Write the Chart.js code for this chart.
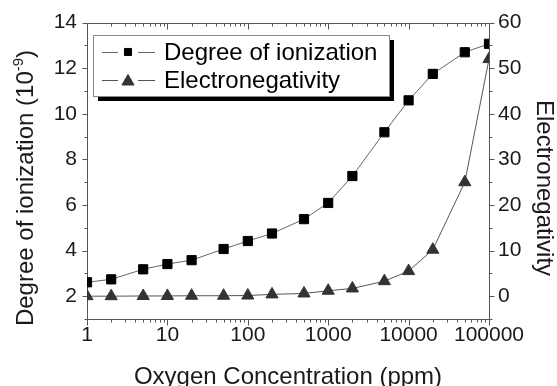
<!DOCTYPE html>
<html>
<head>
<meta charset="utf-8">
<script src="https://cdn.jsdelivr.net/npm/chart.js@4/dist/chart.umd.min.js"></script>
<style>
  html, body { margin: 0; padding: 0; background: #fff; }
  canvas { display: block; }
</style>
</head>
<body>
<canvas id="ionChart" width="557" height="386"></canvas>
<script>
// O2 concentration (ppm) and measured values
const concentration = [1, 2, 5, 10, 20, 50, 100, 200, 500, 1000, 2000, 5000, 10000, 20000, 50000, 100000];
const ionization = [2.61, 2.74, 3.18, 3.41, 3.58, 4.07, 4.42, 4.75, 5.38, 6.09, 7.27, 9.19, 10.59, 11.75, 12.7, 13.07];
const electronegativity = [0, 0, 0.05, 0.05, 0.1, 0.1, 0.15, 0.4, 0.6, 1.2, 1.7, 3.3, 5.5, 10.2, 25, 52];

const xTicks = [1, 10, 100, 1000, 10000, 100000];
const leftTicks = [2, 4, 6, 8, 10, 12, 14];
const rightTicks = [0, 10, 20, 30, 40, 50, 60];

const FONT = "'Liberation Sans', Arial, sans-serif";
const AXIS_COLOR = '#555';
const TEXT_COLOR = '#1a1a1a';

function toPoints(ys) {
    return concentration.map((c, i) => ({ x: c, y: ys[i] }));
}

// frame, tick marks, titles and legend
const decorations = {
    id: 'decorations',
    beforeDatasetsDraw(chart) {
        const { ctx, chartArea: a, scales } = chart;
        const L = Math.round(a.left) + 0.5, R = Math.round(a.right) + 0.5;
        const T = Math.round(a.top) + 0.5, B = Math.round(a.bottom) + 0.5;
        ctx.save();
        ctx.strokeStyle = AXIS_COLOR;
        ctx.lineWidth = 1;
        ctx.beginPath();
        ctx.rect(L, T, R - L, B - T);

        // log ticks on bottom (outward) and top (inward)
        for (let d = 1; d <= 100000; d *= 10) {
            for (let m = 1; m <= 9; m++) {
                const v = d * m;
                if (v > 100000) break;
                const px = Math.round(scales.x.getPixelForValue(v)) + 0.5;
                const len = m === 1 ? 6 : 3;
                ctx.moveTo(px, B); ctx.lineTo(px, B + len);
                ctx.moveTo(px, T); ctx.lineTo(px, T + len);
            }
        }
        // left axis
        for (let v = 1; v <= 14; v++) {
            const py = Math.round(scales.y.getPixelForValue(v)) + 0.5;
            const len = v % 2 === 0 ? 5 : 3;
            ctx.moveTo(L - len, py); ctx.lineTo(L, py);
        }
        // right axis
        for (let v = -5; v <= 60; v += 5) {
            const py = Math.round(scales.y1.getPixelForValue(v)) + 0.5;
            const len = v % 10 === 0 ? 5 : 3;
            ctx.moveTo(R, py); ctx.lineTo(R + len, py);
        }
        ctx.stroke();
        ctx.restore();
    },
    afterDraw(chart) {
        const { ctx } = chart;
        ctx.save();
        ctx.fillStyle = TEXT_COLOR;
        ctx.textBaseline = 'alphabetic';

        // bottom title
        ctx.font = '24px ' + FONT;
        ctx.textAlign = 'center';
        ctx.fillText('Oxygen Concentration (ppm)', 288, 384);

        // left title with superscript
        ctx.save();
        ctx.translate(33, 188);
        ctx.rotate(-Math.PI / 2);
        const main = 'Degree of ionization (10';
        ctx.font = '24px ' + FONT;
        const wMain = ctx.measureText(main).width;
        ctx.font = '15px ' + FONT;
        const wSup = ctx.measureText('-9').width;
        ctx.font = '24px ' + FONT;
        const wClose = ctx.measureText(')').width;
        let x0 = -(wMain + wSup + wClose) / 2;
        ctx.textAlign = 'left';
        ctx.fillText(main, x0, 0);
        ctx.font = '15px ' + FONT;
        ctx.fillText('-9', x0 + wMain, -10);
        ctx.font = '24px ' + FONT;
        ctx.fillText(')', x0 + wMain + wSup, 0);
        ctx.restore();

        // right title
        ctx.save();
        ctx.translate(537, 188);
        ctx.rotate(Math.PI / 2);
        ctx.textAlign = 'center';
        ctx.font = '24px ' + FONT;
        ctx.fillText('Electronegativity', 0, 0);
        ctx.restore();

        // legend box with drop shadow
        const bx = 93, by = 35, bw = 296, bh = 61;
        ctx.fillStyle = '#000';
        ctx.fillRect(bx + 5, by + 5, bw, bh);
        ctx.fillStyle = '#fff';
        ctx.fillRect(bx, by, bw, bh);
        ctx.strokeStyle = '#888';
        ctx.lineWidth = 1;
        ctx.strokeRect(bx + 0.5, by + 0.5, bw, bh);

        const rows = [52, 80];
        chart.data.datasets.forEach((ds, i) => {
            const y = rows[i];
            ctx.strokeStyle = ds.borderColor;
            ctx.lineWidth = 1;
            ctx.beginPath();
            ctx.moveTo(102, y + 0.5); ctx.lineTo(118, y + 0.5);
            ctx.moveTo(138, y + 0.5); ctx.lineTo(155, y + 0.5);
            ctx.stroke();
            ctx.fillStyle = ds.pointBackgroundColor;
            ctx.strokeStyle = ds.pointBorderColor;
            Chart.helpers.drawPoint(ctx, {
                pointStyle: ds.pointStyle,
                radius: i === 0 ? 5 : ds.pointRadius,
                borderWidth: 1,
                rotation: 0
            }, 128, y + (i === 1 ? 1.5 : 0));
            ctx.fillStyle = '#000';
            ctx.font = '24px ' + FONT;
            ctx.textAlign = 'left';
            ctx.textBaseline = 'middle';
            ctx.fillText(ds.label, 164, y + 1);
        });
        ctx.restore();
    }
};

const noGrid = { display: false, drawTicks: false };

new Chart(document.getElementById('ionChart'), {
    type: 'line',
    data: {
        datasets: [
            {
                label: 'Degree of ionization',
                data: toPoints(ionization),
                yAxisID: 'y',
                borderColor: '#666',
                borderWidth: 1,
                pointStyle: 'rect',
                pointRadius: 6.5,
                pointBackgroundColor: '#000',
                pointBorderColor: '#000',
                pointBorderWidth: 1,
                tension: 0
            },
            {
                label: 'Electronegativity',
                data: toPoints(electronegativity),
                yAxisID: 'y1',
                borderColor: '#555',
                borderWidth: 1,
                pointStyle: 'triangle',
                pointRadius: 7,
                pointBackgroundColor: '#333',
                pointBorderColor: '#333',
                pointBorderWidth: 1,
                tension: 0
            }
        ]
    },
    options: {
        responsive: false,
        animation: false,
        layout: { padding: { top: 22, left: 0, right: 0, bottom: 0 } },
        plugins: {
            legend: { display: false },
            tooltip: { enabled: false }
        },
        scales: {
            x: {
                type: 'logarithmic',
                position: 'bottom',
                min: 1,
                max: 100000,
                grid: noGrid,
                border: { display: false },
                afterBuildTicks: s => { s.ticks = xTicks.map(v => ({ value: v })); },
                afterFit: s => { s.height = 67; },
                ticks: {
                    autoSkip: false,
                    maxRotation: 0,
                    padding: 4,
                    color: TEXT_COLOR,
                    font: { family: FONT, size: 21 },
                    callback: v => String(v)
                }
            },
            y: {
                position: 'left',
                min: 1,
                max: 14,
                grid: noGrid,
                border: { display: false },
                afterBuildTicks: s => { s.ticks = leftTicks.map(v => ({ value: v })); },
                afterFit: s => { s.width = 87; },
                ticks: {
                    padding: 10,
                    color: TEXT_COLOR,
                    font: { family: FONT, size: 21 },
                    callback: v => String(v)
                }
            },
            y1: {
                position: 'right',
                min: -5,
                max: 60,
                grid: noGrid,
                border: { display: false },
                afterBuildTicks: s => { s.ticks = rightTicks.map(v => ({ value: v })); },
                afterFit: s => { s.width = 68; },
                ticks: {
                    padding: 9,
                    color: TEXT_COLOR,
                    font: { family: FONT, size: 21 },
                    callback: v => String(v)
                }
            }
        }
    },
    plugins: [decorations]
});
</script>
</body>
</html>
